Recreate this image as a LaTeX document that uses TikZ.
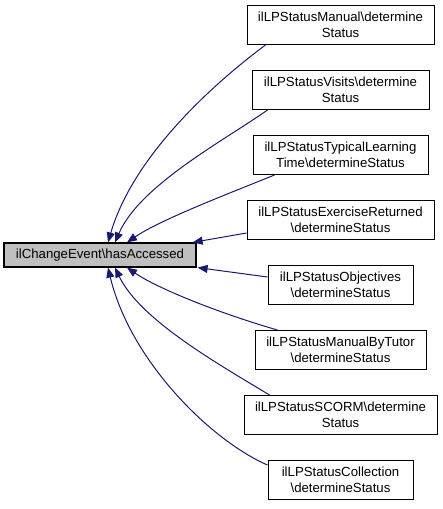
\documentclass[tikz,border=0pt]{standalone}
\usepackage{fontspec}
\setmainfont{Liberation Sans}
\usetikzlibrary{arrows.meta,calc}
\definecolor{edgecol}{HTML}{191970}
\definecolor{maingray}{HTML}{BFBFBF}
\tikzset{
  box/.style={draw=black, line width=1pt, fill=white, inner sep=0pt, align=center,
    font=\fontsize{13.2}{15.5}\selectfont, minimum height=39pt},
  mainbox/.style={box, fill=maingray, line width=1.2pt, minimum height=24pt},
  edge/.style={draw=edgecol, line width=1pt, -{Triangle[length=10pt,width=8pt]}}
}
\begin{document}
\begin{tikzpicture}[x=1pt,y=-1pt]
\useasboundingbox (0,0) rectangle (443,509);
\node[mainbox, minimum width=192pt] (main) at (100,255) {ilChangeEvent\textbackslash hasAccessed};
\node[box, minimum width=187pt] (b1) at (340.5,25) {ilLPStatusManual\textbackslash determine\\Status};
\node[box, minimum width=177pt] (b2) at (340.5,90) {ilLPStatusVisits\textbackslash determine\\Status};
\node[box, minimum width=175pt] (b3) at (340.5,155) {ilLPStatusTypicalLearning\\Time\textbackslash determineStatus};
\node[box, minimum width=187pt] (b4) at (340.5,220) {ilLPStatusExerciseReturned\\\textbackslash determineStatus};
\node[box, minimum width=145pt] (b5) at (340.5,285) {ilLPStatusObjectives\\\textbackslash determineStatus};
\node[box, minimum width=171pt] (b6) at (340.5,350) {ilLPStatusManualByTutor\\\textbackslash determineStatus};
\node[box, minimum width=193pt] (b7) at (340.5,415) {ilLPStatusSCORM\textbackslash determine\\Status};
\node[box, minimum width=145pt] (b8) at (340.5,480) {ilLPStatusCollection\\\textbackslash determineStatus};

\coordinate (e1) at ($(main.north)+(8,0)$);
\coordinate (e2) at ($(main.north)+(15,0)$);
\coordinate (e3) at ($(main.north)+(27,0)$);
\coordinate (e4) at ($(main.north east)+(-4,0)$);
\coordinate (e5) at ($(main.south east)+(1,0)$);
\coordinate (e6) at ($(main.south)+(27,0)$);
\coordinate (e7) at ($(main.south)+(15,0)$);
\coordinate (e8) at ($(main.south)+(8,0)$);

\coordinate (s1) at ($(b1.south west)+(19,0)$);
\coordinate (s2) at ($(b2.south west)+(16,0)$);
\coordinate (s3) at ($(b3.south west)+(22,0)$);
\coordinate (s4) at ($(b4.west)+(0,13)$);
\coordinate (s5) at ($(b5.west)+(0,-8)$);
\coordinate (s6) at ($(b6.north west)+(23,0)$);
\coordinate (s7) at ($(b7.north west)+(26,0)$);
\coordinate (s8) at ($(b8.west)+(0,-15)$);

\draw[edge] (s1) .. controls (225,75) and (135,150) .. (e1);
\draw[edge] (s2) .. controls (225,140) and (140,185) .. (e2);
\draw[edge] (s3) .. controls (225,195) and (160,220) .. (e3);
\draw[edge] (s4) -- (e4);
\draw[edge] (s5) -- (e5);
\draw[edge] (s6) .. controls (225,315) and (160,290) .. (e6);
\draw[edge] (s7) .. controls (220,365) and (140,320) .. (e7);
\draw[edge] (s8) .. controls (210,440) and (130,360) .. (e8);
\end{tikzpicture}
\end{document}
